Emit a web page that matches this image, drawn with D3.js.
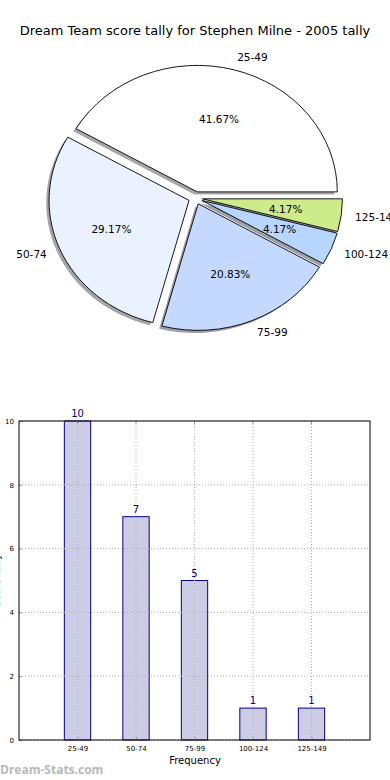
<!DOCTYPE html>
<html><head><meta charset="utf-8">
<script src="https://cdn.jsdelivr.net/npm/d3@7"></script>
<style>body{margin:0;background:#fff}svg{display:block;font-family:"DejaVu Sans",sans-serif}</style>
</head><body>
<svg id="c" width="390" height="780"></svg>
<script>
const categories = ["25-49","50-74","75-99","100-124","125-149"];
const counts = [10,7,5,1,1];
const sliceColors = ["#ffffff","#ebf2ff","#c5d9ff","#b6d6ff","#cdeb8a"];
const yTicks = [0,2,4,6,8,10];
const title = "Dream Team score tally for Stephen Milne - 2005 tally";

const svg = d3.select("#c");
svg.append("text").attr("x",195).attr("y",35).attr("text-anchor","middle")
  .attr("font-size",13).attr("fill","#000").text(title);

// ---- Pie (elliptical, matplotlib style) ----
const cx = 195.5, cy = 198, rx = 140, ry = 126.5, expl = 0.05;
const total = d3.sum(counts);
const pie = d3.pie().sort(null).startAngle(Math.PI/2).endAngle(Math.PI/2 - 2*Math.PI);
const arcs = pie(counts);
const arcGen = d3.arc().innerRadius(0).outerRadius(1);
const pg = svg.append("g");
function off(a){
  const tm = Math.PI/2 - (a.startAngle + a.endAngle)/2;
  return {tm, x: cx + expl*rx*Math.cos(tm), y: cy - expl*ry*Math.sin(tm)};
}
arcs.forEach((a,i)=>{
  const o = off(a);
  const c = d3.rgb(sliceColors[i]);
  pg.append("path").attr("d",arcGen(a))
    .attr("transform",`translate(${o.x-2.8},${o.y+2.6}) scale(${rx},${ry})`)
    .attr("fill",`rgb(${c.r*0.3},${c.g*0.3},${c.b*0.3})`).attr("fill-opacity",0.5);
});
arcs.forEach((a,i)=>{
  const o = off(a);
  pg.append("path").attr("d",arcGen(a))
    .attr("transform",`translate(${o.x},${o.y}) scale(${rx},${ry})`)
    .attr("fill",sliceColors[i]).attr("stroke","#000").attr("stroke-width",0.9)
    .attr("vector-effect","non-scaling-stroke");
});
arcs.forEach((a,i)=>{
  const o = off(a);
  const pct = (counts[i]/total*100).toFixed(2)+"%";
  pg.append("text").attr("x",o.x + 0.6*rx*Math.cos(o.tm)).attr("y",o.y - 0.6*ry*Math.sin(o.tm))
    .attr("text-anchor","middle").attr("dominant-baseline","central")
    .attr("font-size",10.5).text(pct);
  const lx = o.x + 1.1*rx*Math.cos(o.tm), ly = o.y - 1.1*ry*Math.sin(o.tm);
  pg.append("text").attr("x",lx).attr("y",ly)
    .attr("text-anchor", Math.cos(o.tm) > 0 ? "start" : "end").attr("dominant-baseline","central")
    .attr("font-size",10.5).text(categories[i]);
});

// ---- Bar chart ----
const L = 19, R = 370, T = 421, B = 740;
const x = d3.scaleLinear().domain([-1,5]).range([L,R]);
const y = d3.scaleLinear().domain([0,10]).range([B,T]);
const bg = svg.append("g");
const bw = x(0.45) - x(0);
bg.selectAll("rect.bar").data(counts).join("rect")
  .attr("x",(d,i)=>x(i)-bw/2).attr("y",d=>y(d)).attr("width",bw).attr("height",d=>y(0)-y(d))
  .attr("fill","#ccccE4").attr("stroke","#000088").attr("stroke-width",1);
const gg = bg.append("g").attr("stroke","#b0b0b0").attr("stroke-width",1).attr("stroke-dasharray","1,2");
categories.forEach((c,i)=>gg.append("line").attr("x1",x(i)).attr("x2",x(i)).attr("y1",T).attr("y2",B));
yTicks.forEach(t=>gg.append("line").attr("x1",L).attr("x2",R).attr("y1",y(t)).attr("y2",y(t)));
const yAxis = d3.axisLeft(y).tickValues(yTicks).tickSize(-3).tickPadding(5);
const ya = bg.append("g").attr("transform",`translate(${L},0)`).call(yAxis);
ya.select(".domain").remove();
ya.selectAll(".tick line").attr("stroke","#999");
ya.selectAll("text").attr("font-size",7).attr("font-family","DejaVu Sans").attr("fill","#000");
const xAxis = d3.axisBottom(x).tickValues(d3.range(categories.length)).tickFormat(i=>categories[i]).tickSize(-3).tickPadding(6);
const xa = bg.append("g").attr("transform",`translate(0,${B})`).call(xAxis);
xa.select(".domain").remove();
xa.selectAll(".tick line").attr("stroke","#999");
xa.selectAll("text").attr("font-size",7).attr("font-family","DejaVu Sans").attr("fill","#000");
categories.forEach((c,i)=>bg.append("line").attr("x1",x(i)).attr("x2",x(i)).attr("y1",T).attr("y2",T+3).attr("stroke","#999"));
bg.append("rect").attr("x",L).attr("y",T).attr("width",R-L).attr("height",B-T)
  .attr("fill","none").attr("stroke","#000").attr("stroke-width",1);
bg.selectAll("text.val").data(counts).join("text").attr("class","val")
  .attr("x",(d,i)=>x(i)).attr("y",d=>y(d)-4).attr("text-anchor","middle")
  .attr("font-size",10).attr("fill","#000088").text(d=>d);
bg.append("text").attr("x",195).attr("y",764).attr("text-anchor","middle").attr("font-size",10).text("Frequency");
bg.append("text").attr("transform",`translate(0,${(T+B)/2}) rotate(-90)`).attr("text-anchor","middle")
  .attr("font-size",10).text("Score Tally");
svg.append("text").attr("x",0).attr("y",774).attr("font-size",12).attr("font-weight","bold")
  .attr("fill","#b8b8b8").attr("font-family","Open Sans").text("Dream-Stats.com");
</script>
</body></html>
